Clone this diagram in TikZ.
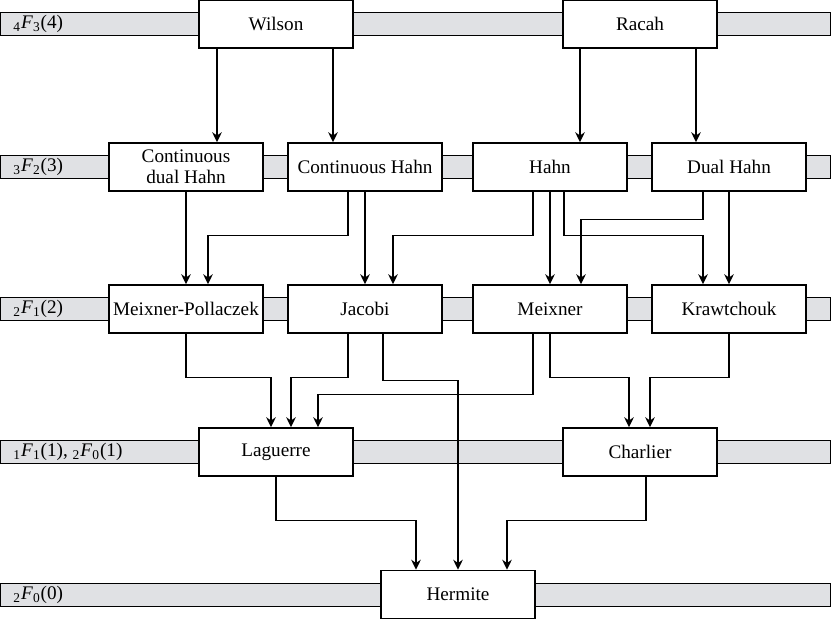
\documentclass[tikz,border=0pt]{standalone}
\usepackage{fontspec}
\setmainfont{Liberation Serif}
\usetikzlibrary{calc,arrows.meta}
\definecolor{bandgray}{RGB}{224,225,228}
\begin{document}
\begin{tikzpicture}[x=0.5pt, y=-0.5pt, >={Stealth[length=5pt,width=4.8pt]}, line width=0.75pt,
    font=\fontsize{9.6}{10.5}\selectfont,
    family/.style={draw, fill=white, minimum width=77pt, minimum height=24pt, inner sep=1pt, align=center},
    band/.style={draw, fill=bandgray}]
    \useasboundingbox (0,0) rectangle (831,619);

    % Hypergeometric levels
    \foreach \y in {24,167,309,452,595}
        \draw[band] (0.5,\y-11.5) rectangle (830.5,\y+11.5);
    \node[anchor=west] (lvlfour) at (6,24) {\textsubscript{4}\textit{F}\textsubscript{3}(4)};
    \node[anchor=west] (lvlthree) at (6,167) {\textsubscript{3}\textit{F}\textsubscript{2}(3)};
    \node[anchor=west] (lvltwo) at (6,309) {\textsubscript{2}\textit{F}\textsubscript{1}(2)};
    \node[anchor=west] (lvlone) at (6,452) {\textsubscript{1}\textit{F}\textsubscript{1}(1), \textsubscript{2}\textit{F}\textsubscript{0}(1)};
    \node[anchor=west] (lvlzero) at (6,595) {\textsubscript{2}\textit{F}\textsubscript{0}(0)};

    % Polynomial families
    \node[family] (wilson) at (276,24) {Wilson};
    \node[family] (racah) at (640,24) {Racah};
    \node[family] (cdh) at (186,167) {Continuous\\dual Hahn};
    \node[family] (ch) at (365,167) {Continuous Hahn};
    \node[family] (hahn) at (550,167) {Hahn};
    \node[family] (dh) at (729,167) {Dual Hahn};
    \node[family] (mp) at (186,309) {Meixner-Pollaczek};
    \node[family] (jacobi) at (365,309) {Jacobi};
    \node[family] (meixner) at (550,309) {Meixner};
    \node[family] (kraw) at (729,309) {Krawtchouk};
    \node[family] (laguerre) at (276,452) {Laguerre};
    \node[family] (charlier) at (640,452) {Charlier};
    \node[family] (hermite) at (458,594.5) {Hermite};

    % Limits from 4F3
    \draw[->] ($(wilson.south)+(-59,0)$) -- ($(cdh.north)+(31,0)$);
    \draw[->] ($(wilson.south)+(57,0)$) -- ($(ch.north)+(-32,0)$);
    \draw[->] ($(racah.south)+(-60,0)$) -- ($(hahn.north)+(30,0)$);
    \draw[->] ($(racah.south)+(56,0)$) -- ($(dh.north)+(-33,0)$);

    % Limits from 3F2
    \draw[->] (cdh.south) -- (mp.north);
    \draw[->] ($(ch.south)+(-17,0)$) -- ++(0,44) -| ($(mp.north)+(22,0)$);
    \draw[->] (ch.south) -- (jacobi.north);
    \draw[->] ($(hahn.south)+(-17,0)$) -- ++(0,44) -| ($(jacobi.north)+(28,0)$);
    \draw[->] (hahn.south) -- (meixner.north);
    \draw[->] ($(hahn.south)+(14,0)$) -- ++(0,44) -| ($(kraw.north)+(-26,0)$);
    \draw[->] ($(dh.south)+(-26,0)$) -- ++(0,28) -| ($(meixner.north)+(31,0)$);
    \draw[->] (dh.south) -- (kraw.north);

    % Limits from 2F1
    \draw[->] (mp.south) -- ++(0,44) -| ($(laguerre.north)+(-5,0)$);
    \draw[->] ($(jacobi.south)+(-17,0)$) -- ++(0,44) -| ($(laguerre.north)+(15,0)$);
    \draw[->] ($(meixner.south)+(-17,0)$) -- ++(0,61) -| ($(laguerre.north)+(42,0)$);
    \draw[->] ($(jacobi.south)+(18,0)$) -- ++(0,47) -| (hermite.north);
    \draw[->] (meixner.south) -- ++(0,44) -| ($(charlier.north)+(-11,0)$);
    \draw[->] (kraw.south) -- ++(0,44) -| ($(charlier.north)+(10,0)$);

    % Limits from 1F1, 2F0
    \draw[->] (laguerre.south) -- ++(0,44) -| ($(hermite.north)+(-42,0)$);
    \draw[->] ($(charlier.south)+(6,0)$) -- ++(0,44) -| ($(hermite.north)+(49,0)$);
\end{tikzpicture}
\end{document}
